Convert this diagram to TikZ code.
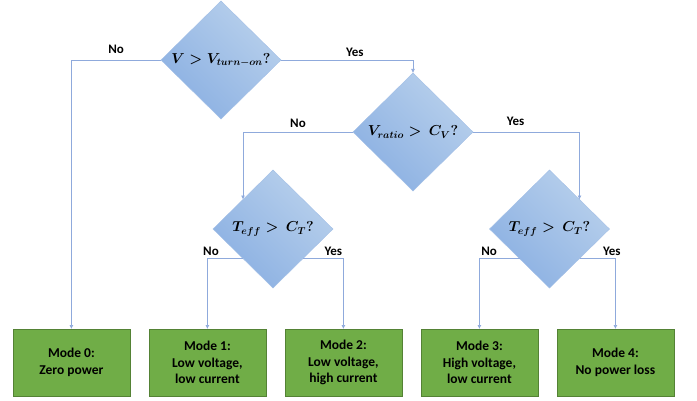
\documentclass[tikz,border=0pt]{standalone}
\usepackage{fontspec}
\setmainfont{Carlito}
\usepackage{amsmath}
\usetikzlibrary{shapes.geometric,arrows.meta,positioning}
\definecolor{diamlight}{HTML}{B8D0EC}
\definecolor{diamdark}{HTML}{8BB0E2}
\definecolor{diamedge}{HTML}{A3BFE6}
\definecolor{linkblue}{HTML}{8FAADC}
\definecolor{modegreen}{HTML}{70AD47}
\definecolor{modeedge}{HTML}{548235}

\begin{document}
\begin{tikzpicture}[
    x=1pt, y=-1pt,
    >={Latex[length=4pt,width=4pt]},
    decision/.style={diamond, draw=diamedge, line width=0.4pt, top color=diamlight, bottom color=diamdark, shading angle=-45,
        minimum width=120pt, minimum height=118pt, inner sep=0pt, outer sep=0pt, font=\fontsize{14.5}{16}\selectfont\boldmath},
    mode/.style={draw=modeedge, fill=modegreen, line width=0.6pt, minimum width=117pt, minimum height=67pt, inner sep=0pt, outer sep=0pt,
        align=center, font=\fontsize{13.5}{16.5}\selectfont\bfseries},
    lbl/.style={font=\fontsize{13}{15}\selectfont\bfseries, inner sep=1pt},
    link/.style={draw=linkblue, line width=0.7pt, ->}
]
    \useasboundingbox (0,0) rectangle (697,400);

    % decisions
    \node[decision] (vturn) at (221,60) {$V > V_{turn-on}?$};
    \node[decision] (vratio) at (413,132) {$V_{ratio} > \,C_V?$};
    \node[decision] (teffa) at (273,229) {$T_{eff} > \,C_T?$};
    \node[decision] (teffb) at (549.5,229) {$T_{eff} > \,C_T?$};

    % modes
    \node[mode] (mode0) at (71.4,362.5) {Mode 0:\\Zero power};
    \node[mode, right=19pt of mode0] (mode1) {Mode 1:\\Low voltage,\\low current};
    \node[mode, right=19pt of mode1] (mode2) {Mode 2:\\Low voltage,\\high current};
    \node[mode, right=19pt of mode2] (mode3) {Mode 3:\\High voltage,\\low current};
    \node[mode, right=19pt of mode3] (mode4) {Mode 4:\\No power loss};

    \draw[link] (vturn.west) -| node[lbl, pos=0.25, above=5pt] {No} (mode0);
    \draw[link] (vturn.east) -| node[lbl, pos=0.28, above=2pt] {Yes} (vratio);
    \draw[link] (vratio.west) -| node[lbl, pos=0.25, above=3pt] {No} (teffa.north west);
    \draw[link] (vratio.east) -| node[lbl, pos=0.2, above=5pt] {Yes} (teffb.north east);
    \draw[link] (teffa.south west) -| node[lbl, pos=0.45, above=2pt] {No} (mode1);
    \draw[link] (teffa.south east) -| node[lbl, pos=0.375, above=2pt] {Yes} (mode2);
    \draw[link] (teffb.south west) -| node[lbl, pos=0.38, above=2pt] {No} (mode3);
    \draw[link] (teffb.south east) -| node[lbl, pos=0.45, above=2pt] {Yes} (mode4);
\end{tikzpicture}
\end{document}
